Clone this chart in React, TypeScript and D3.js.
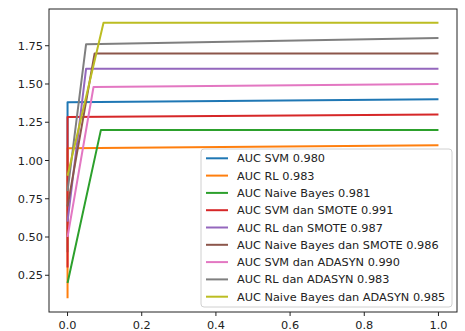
import React from 'react';
import * as d3 from 'd3';

// legend labels
const labels = [
  'AUC SVM 0.980',
  'AUC RL 0.983',
  'AUC Naive Bayes 0.981',
  'AUC SVM dan SMOTE 0.991',
  'AUC RL dan SMOTE 0.987',
  'AUC Naive Bayes dan SMOTE 0.986',
  'AUC SVM dan ADASYN 0.990',
  'AUC RL dan ADASYN 0.983',
  'AUC Naive Bayes dan ADASYN 0.985',
];

const colors = ['#1f77b4', '#ff7f0e', '#2ca02c', '#d62728', '#9467bd', '#8c564b', '#e377c2', '#7f7f7f', '#bcbd22'];

// curve points (x = FPR, y = TPR shifted)
const fprSvm = [0, 0, 1];
const tprSvm = [0.4, 1.38, 1.4];
const fprRl = [0, 0, 1];
const tprRl = [0.1, 1.08, 1.1];
const fprNb = [0, 0.09, 1];
const tprNb = [0.2, 1.2, 1.2];
const fprSvmSmote = [0, 0, 1];
const tprSvmSmote = [0.3, 1.285, 1.3];
const fprRlSmote = [0, 0.05, 1];
const tprRlSmote = [0.6, 1.6, 1.6];
const fprNbSmote = [0, 0.073, 1];
const tprNbSmote = [0.7, 1.7, 1.7];
const fprSvmAdasyn = [0, 0.07, 1];
const tprSvmAdasyn = [0.5, 1.48, 1.5];
const fprRlAdasyn = [0, 0.05, 1];
const tprRlAdasyn = [0.8, 1.76, 1.8];
const fprNbAdasyn = [0, 0.097, 1];
const tprNbAdasyn = [0.9, 1.9, 1.9];

const seriesX = [fprSvm, fprRl, fprNb, fprSvmSmote, fprRlSmote, fprNbSmote, fprSvmAdasyn, fprRlAdasyn, fprNbAdasyn];
const seriesY = [tprSvm, tprRl, tprNb, tprSvmSmote, tprRlSmote, tprNbSmote, tprSvmAdasyn, tprRlAdasyn, tprNbAdasyn];

const xTicks = [0, 0.2, 0.4, 0.6, 0.8, 1.0];
const yTicks = [0.25, 0.5, 0.75, 1.0, 1.25, 1.5, 1.75];

const App = () => {
  const width = 465;
  const height = 331;
  const left = 49, right = 457, top = 9, bottom = 312;
  const font = 'DejaVu Sans, sans-serif';
  const fs = 11.3;

  const x = d3.scaleLinear().domain([-0.05, 1.05]).range([left, right]);
  const y = d3.scaleLinear().domain([0.01, 1.99]).range([bottom, top]);

  const line = d3.line<[number, number]>().x(d => x(d[0])).y(d => y(d[1]));

  // legend box
  const lg = { x: 201, y: 149, w: 251, h: 158 };
  const rowH = 17.3;

  return (
    <svg width={width} height={height} style={{ position: 'absolute', left: 0, top: 0, background: '#fff' }}>
      <rect x={0} y={0} width={width} height={height} fill="#fff" />
      <clipPath id="plot">
        <rect x={left} y={top} width={right - left} height={bottom - top} />
      </clipPath>
      <g clipPath="url(#plot)">
        {seriesX.map((xs, i) => (
          <path
            key={i}
            d={line(xs.map((v, j) => [v, seriesY[i][j]] as [number, number])) || ''}
            fill="none"
            stroke={colors[i]}
            strokeWidth={2}
            strokeLinejoin="round"
          />
        ))}
      </g>
      {/* spines */}
      <rect x={left} y={top} width={right - left} height={bottom - top} fill="none" stroke="#222" strokeWidth={1} />
      {/* x axis */}
      {xTicks.map(t => (
        <g key={t} transform={`translate(${x(t)},${bottom})`}>
          <line y1={0} y2={4} stroke="#222" />
          <text y={17} textAnchor="middle" fontFamily={font} fontSize={fs} fill="#222">{t.toFixed(1)}</text>
        </g>
      ))}
      {/* y axis */}
      {yTicks.map(t => (
        <g key={t} transform={`translate(${left},${y(t)})`}>
          <line x1={0} x2={-4} stroke="#222" />
          <text x={-6} dy="0.36em" textAnchor="end" fontFamily={font} fontSize={fs} fill="#222">{t.toFixed(2)}</text>
        </g>
      ))}
      {/* legend */}
      <rect x={lg.x} y={lg.y} width={lg.w} height={lg.h} rx={3} fill="#fff" fillOpacity={0.8} stroke="#d0d0d0" />
      {labels.map((l, i) => {
        const cy = lg.y + 9.3 + i * rowH;
        return (
          <g key={l}>
            <line x1={206} x2={228} y1={cy} y2={cy} stroke={colors[i]} strokeWidth={2} />
            <text x={237} y={cy} dy="0.36em" fontFamily={font} fontSize={fs} fill="#222">{l}</text>
          </g>
        );
      })}
    </svg>
  );
};

export default App;
